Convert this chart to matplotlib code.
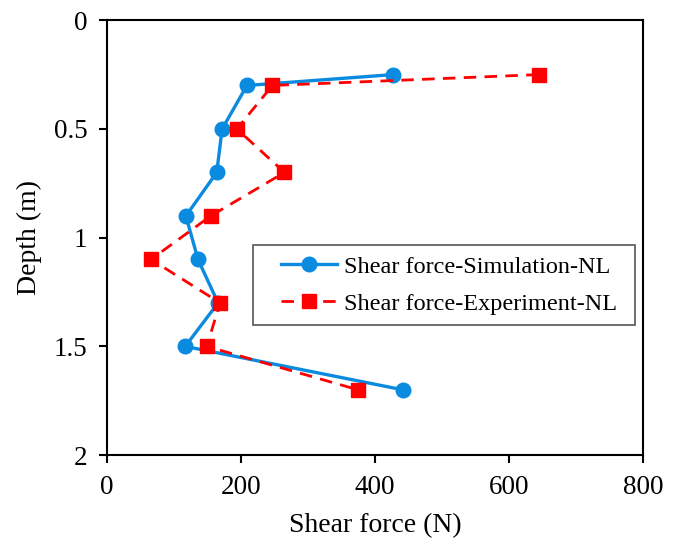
import matplotlib
matplotlib.use("Agg")
import matplotlib.pyplot as plt
from matplotlib.patches import Rectangle

# depth values (m)
depth = [0.25, 0.3, 0.5, 0.7, 0.9, 1.1, 1.3, 1.5, 1.7]
# shear force (N)
sim_force = [427, 209, 172, 164, 118, 136, 166, 117, 442]
exp_force = [644, 247, 194, 265, 155, 66, 169, 149, 375]

plt.rcParams['font.family'] = ['Liberation Serif', 'DejaVu Serif']

fig = plt.figure(figsize=(6.8, 5.47), dpi=100)
ax = fig.add_axes([0.157, 0.168, 0.789, 0.795])

ax.plot(sim_force, depth, color='#0a8be0', lw=2.4, marker='o', ms=10.5,
        label='Shear force-Simulation-NL')
ax.plot(exp_force, depth, color='#ff0000', lw=2, ls=(0, (4.5, 3)), marker='s', ms=10.5,
        label='Shear force-Experiment-NL')

ax.set_xlim(0, 800)
ax.set_ylim(2, 0)
ax.set_xticks([0, 200, 400, 600, 800])
ax.set_yticks([0, 0.5, 1, 1.5, 2])
ax.set_yticklabels(['0', '0.5', '1', '1.5', '2'])
ax.tick_params(direction='out', length=6, width=1.5, labelsize=19.5, pad=8)
for s in ax.spines.values():
    s.set_linewidth(1.5)

ax.set_xlabel('Shear force (N)', fontsize=20, labelpad=10)
ax.set_ylabel('Depth (m)', fontsize=20, labelpad=8)

# legend frame drawn separately (wider side padding than matplotlib gives)
ax.add_patch(Rectangle((0.272, 0.299), 0.713, 0.184, transform=ax.transAxes,
                       facecolor='white', edgecolor='#555555', lw=1.2, zorder=4))
leg = ax.legend(loc='center left', bbox_to_anchor=(0.325, 0.391), borderaxespad=0,
                fontsize=17.5, frameon=False, borderpad=0,
                handlelength=2.3, labelspacing=0.62, handletextpad=0.3)
leg.set_zorder(5)

fig.savefig('out.png', dpi=100)
